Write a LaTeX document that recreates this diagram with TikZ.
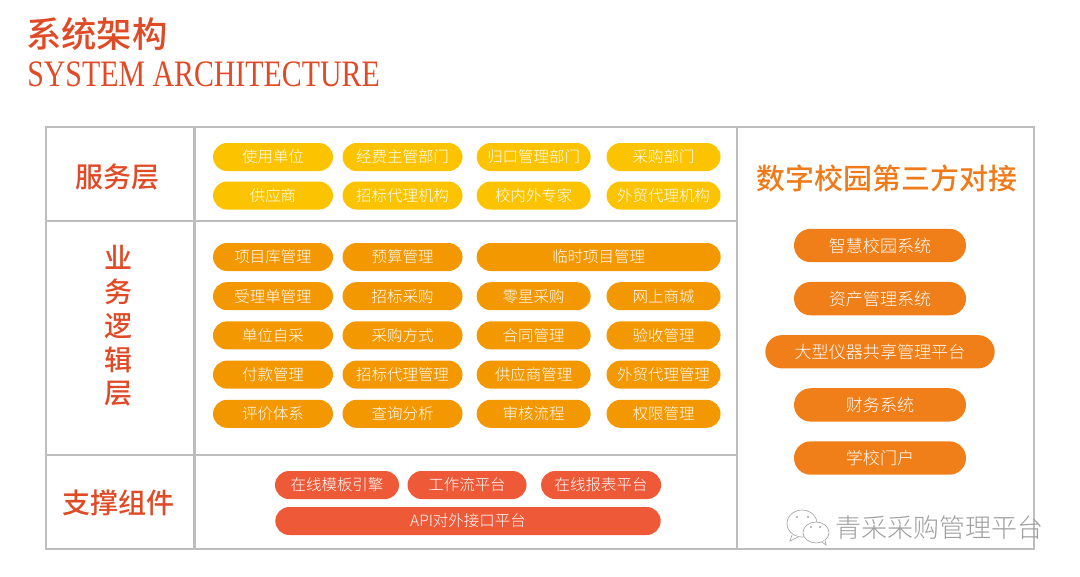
\documentclass[tikz,border=0pt]{standalone}
\usepackage{fontspec}
\setmainfont{Noto Sans CJK SC Medium}
\newfontfamily\pillfont{Noto Sans CJK SC Light}
\newfontfamily\latinfont[FakeStretch=0.8]{Liberation Serif}
\usepackage{xcolor}
\usepackage{tikz}
\usetikzlibrary{positioning,shapes.misc}
\definecolor{titlered}{HTML}{DF4B27}
\definecolor{gridgray}{HTML}{BDBDBD}
\definecolor{svcyellow}{HTML}{FCC400}
\definecolor{logicorange}{HTML}{F39800}
\definecolor{sideorange}{HTML}{F07F1A}
\definecolor{supportred}{HTML}{EE5A38}
\definecolor{sidetitle}{HTML}{EF7A1A}
\tikzset{
  pill/.style={rounded rectangle, inner sep=0pt, minimum height=21pt, minimum width=90pt, text=white, font=\pillfont\fontsize{11.6}{13}\selectfont},
  narrow/.style={minimum width=85.5pt},
  svc/.style={pill, fill=svcyellow},
  logic/.style={pill, fill=logicorange},
  support/.style={pill, fill=supportred},
  side/.style={pill, fill=sideorange, minimum height=25pt, minimum width=129pt, font=\pillfont\fontsize{12.8}{15}\selectfont},
  layer/.style={text=titlered, font=\fontsize{21}{25}\selectfont},
  gridline/.style={draw=gridgray, line width=1.9pt},
  bubble/.style={draw=gray!70, fill=white, line width=0.5pt}
}
\begin{document}
\begin{tikzpicture}[x=0.75pt, y=-0.75pt]
  \useasboundingbox (0,0) rectangle (1080,576);
  % title
  \node[anchor=west, inner sep=0pt, text=titlered, font=\fontsize{26.5}{30}\selectfont] (title) at (26,34) {系统架构};
  \node[anchor=west, inner sep=0pt, text=titlered, font=\latinfont\fontsize{28}{32}\selectfont] (subtitle) at (27,74) {SYSTEM ARCHITECTURE};
  % frame
  \coordinate (nw) at (46,127);
  \coordinate (se) at (1034,549);
  \draw[gridline] (nw) rectangle (se);
  \draw[gridline] (194.5,127) -- (194.5,549);
  \draw[gridline] (737,127) -- (737,549);
  \draw[gridline] (46,221) -- (737,221);
  \draw[gridline] (46,455) -- (737,455);
  % layer names
  \node[layer] (svcname) at (117,177) {服务层};
  \node[layer, align=center] (logicname) at (118,326) {业\\[0.3pt]务\\[0.3pt]逻\\[0.3pt]辑\\[0.3pt]层};
  \node[layer] (supportname) at (118,503) {支撑组件};
  % service layer
  \node[svc] (user) at (273,157) {使用单位};
  \node[svc, right=6.75pt of user] (funding) {经费主管部门};
  \node[svc, narrow, right=10.2pt of funding] (central) {归口管理部门};
  \node[svc, narrow, right=11.5pt of central] (purchase) {采购部门};
  \node[svc, below=7.5pt of user] (supplier) {供应商};
  \node[svc, below=7.5pt of funding] (agency) {招标代理机构};
  \node[svc, narrow, below=7.5pt of central] (expert) {校内外专家};
  \node[svc, narrow, below=7.5pt of purchase] (foreign) {外贸代理机构};
  % logic layer
  \node[logic] (project) at (273,257) {项目库管理};
  \node[logic, right=6.75pt of project] (budget) {预算管理};
  \node[logic, right=10.2pt of budget, minimum width=183pt] (temp) {临时项目管理};
  \node[logic, below=8pt of project] (accept) {受理单管理};
  \node[logic, below=8pt of budget] (bidding) {招标采购};
  \node[logic, narrow, right=10.2pt of bidding] (retail) {零星采购};
  \node[logic, narrow, right=11.5pt of retail] (mall) {网上商城};
  \node[logic, below=8pt of accept] (self) {单位自采};
  \node[logic, below=8pt of bidding] (method) {采购方式};
  \node[logic, narrow, below=8pt of retail] (contract) {合同管理};
  \node[logic, narrow, below=8pt of mall] (check) {验收管理};
  \node[logic, below=8pt of self] (payment) {付款管理};
  \node[logic, below=8pt of method] (agent) {招标代理管理};
  \node[logic, narrow, below=8pt of contract] (vendor) {供应商管理};
  \node[logic, narrow, below=8pt of check] (trade) {外贸代理管理};
  \node[logic, below=8pt of payment] (review) {评价体系};
  \node[logic, below=8pt of agent] (query) {查询分析};
  \node[logic, narrow, below=8pt of vendor] (audit) {审核流程};
  \node[logic, narrow, below=8pt of trade] (perm) {权限管理};
  % support layer
  \node[support, minimum width=93pt] (template) at (337,485) {在线模板引擎};
  \node[support, right=6pt of template, minimum width=89.25pt] (workflow) {工作流平台};
  \node[support, right=10.5pt of workflow] (report) {在线报表平台};
  \node[support, minimum width=289pt] (api) at (468,521) {API对外接口平台};
  % third party column
  \node[text=sidetitle, font=\fontsize{21.7}{26}\selectfont] (sidename) at (887,178) {数字校园第三方对接};
  \node[side] (campus) at (880,245.5) {智慧校园系统};
  \node[side, below=14.45pt of campus] (asset) {资产管理系统};
  \node[side, below=14.45pt of asset, minimum width=172pt] (share) {大型仪器共享管理平台};
  \node[side, below=14.45pt of share] (finance) {财务系统};
  \node[side, below=14.45pt of finance] (portal) {学校门户};
  % watermark
  \draw[bubble] (802,523.5) ellipse (15 and 13.5);
  \draw[bubble] (792,535) -- (790,541) -- (798,537);
  \draw[bubble] (816,532.5) ellipse (13 and 10.5);
  \draw[bubble] (822,542) -- (826,545) -- (825,540);
  \fill[gray!70] (797,517) circle (1.2) (808,517) circle (1.2) (811,527) circle (1.2) (820,527) circle (1.2);
  \node[anchor=west, inner sep=0pt, text=gray!75, font=\pillfont\fontsize{19.5}{23}\selectfont] (mark) at (835,528) {青采采购管理平台};
\end{tikzpicture}
\end{document}
